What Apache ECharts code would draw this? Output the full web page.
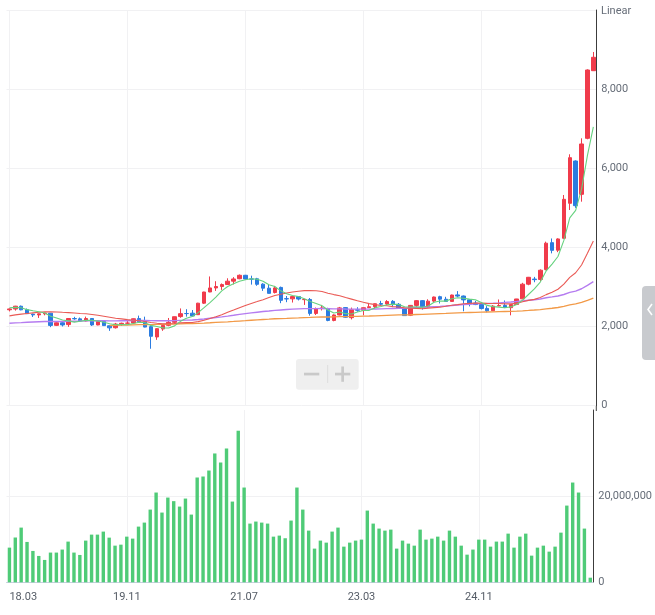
<!DOCTYPE html>
<html>
<head>
<meta charset="utf-8">
<title>KOSPI 월봉</title>
<script src="https://cdn.jsdelivr.net/npm/echarts@6/dist/echarts.min.js"></script>
<style>
  html, body { margin: 0; padding: 0; background: #fff; }
  #chart { width: 655px; height: 615px; }
</style>
</head>
<body>
<div id="chart"></div>
<script>
// ==================== 데이터 ====================
const categories = [
  '18.03','18.04','18.05','18.06','18.07','18.08','18.09','18.10','18.11','18.12',
  '19.01','19.02','19.03','19.04','19.05','19.06','19.07','19.08','19.09','19.10','19.11','19.12',
  '20.01','20.02','20.03','20.04','20.05','20.06','20.07','20.08','20.09','20.10','20.11','20.12',
  '21.01','21.02','21.03','21.04','21.05','21.06','21.07','21.08','21.09','21.10','21.11','21.12',
  '22.01','22.02','22.03','22.04','22.05','22.06','22.07','22.08','22.09','22.10','22.11','22.12',
  '23.01','23.02','23.03','23.04','23.05','23.06','23.07','23.08','23.09','23.10','23.11','23.12',
  '24.01','24.02','24.03','24.04','24.05','24.06','24.07','24.08','24.09','24.10','24.11','24.12',
  '25.01','25.02','25.03','25.04','25.05','25.06','25.07','25.08','25.09','25.10','25.11','25.12',
  '26.01','26.02','26.03','26.04','26.05','26.06'
];

// [시가, 종가, 저가, 고가]
const candles = [
  [2424,2445,2383,2460],[2443,2515,2403,2524],[2514,2423,2412,2531],[2427,2326,2322,2457],[2313,2295,2242,2325],
  [2294,2322,2218,2330],[2322,2343,2284,2345],[2338,2029,1985,2340],[2030,2096,2013,2112],[2096,2041,2002,2118],
  [2050,2204,1993,2206],[2203,2195,2172,2246],[2195,2140,2128,2228],[2141,2203,2130,2252],[2204,2041,2016,2214],
  [2041,2130,2032,2144],[2130,2024,2016,2136],[2020,1967,1891,2030],[1970,2063,1950,2092],[2063,2083,2020,2099],
  [2085,2087,2070,2167],[2091,2197,2060,2204],[2201,2119,2117,2277],[2123,1987,1980,2250],[1997,1754,1439,2061],
  [1737,1947,1664,1957],[1939,2029,1892,2062],[2031,2108,2009,2217],[2108,2249,2067,2252],[2252,2326,2222,2458],
  [2330,2327,2251,2439],[2338,2267,2253,2418],[2300,2591,2300,2600],[2591,2873,2570,2878],[2874,2976,2869,3266],
  [2976,3012,2901,3146],[3013,3061,2927,3089],[3062,3147,3062,3220],[3147,3203,3065,3249],[3209,3296,3196,3316],
  [3296,3202,3184,3305],[3202,3199,3060,3286],[3207,3068,3030,3231],[3072,2970,2901,3095],[2970,2839,2837,3062],
  [2860,2977,2837,3027],[2989,2663,2591,3010],[2705,2699,2616,2772],[2700,2757,2607,2770],[2757,2695,2660,2764],
  [2680,2685,2547,2701],[2685,2332,2276,2721],[2332,2451,2292,2481],[2454,2472,2407,2547],[2457,2155,2134,2474],
  [2155,2293,2133,2309],[2292,2472,2284,2496],[2479,2236,2218,2489],[2225,2425,2180,2480],[2425,2412,2374,2489],
  [2415,2476,2285,2480],[2478,2501,2475,2571],[2502,2577,2453,2582],[2582,2564,2541,2650],[2571,2632,2540,2668],
  [2637,2556,2491,2669],[2563,2465,2447,2594],[2459,2277,2277,2466],[2287,2535,2265,2543],[2535,2655,2497,2669],
  [2655,2497,2429,2669],[2498,2642,2478,2689],[2643,2747,2618,2757],[2755,2692,2584,2779],[2690,2636,2627,2752],
  [2635,2797,2631,2807],[2800,2770,2742,2896],[2772,2674,2386,2784],[2675,2593,2509,2689],[2594,2556,2542,2649],
  [2556,2455,2432,2603],[2459,2399,2360,2516],[2400,2517,2396,2543],[2520,2532,2516,2684],[2534,2481,2467,2660],
  [2478,2557,2284,2571],[2558,2697,2550,2700],[2700,3071,2700,3105],[3071,3245,3044,3254],[3200,3186,3120,3255],
  [3190,3424,3150,3445],[3440,4107,3420,4146],[4120,3926,3850,4226],[3930,4214,3880,4230],[4231,5216,4220,5325],
  [5115,6268,4946,6353],[6184,5055,5000,6200],[5342,6614,5156,6757],[6757,8484,6733,8500],[8466,8805,8466,8939]
];

// 이동평균선
const ma5 = [
  2476,2484,2475,2427,2401,2376,2342,2263,2217,2166,
  2143,2113,2135,2157,2157,2142,2108,2073,2045,2053,
  2045,2079,2110,2095,2029,2001,1967,1965,2017,2132,
  2208,2255,2352,2477,2607,2744,2903,3014,3080,3144,
  3182,3209,3194,3147,3056,3011,2903,2830,2787,2758,
  2700,2634,2584,2527,2419,2341,2369,2326,2316,2368,
  2404,2410,2478,2506,2550,2566,2559,2499,2493,2498,
  2486,2521,2615,2647,2643,2703,2728,2714,2694,2678,
  2610,2535,2504,2492,2477,2497,2557,2668,2810,2951,
  3125,3407,3578,3771,4177,4746,4936,5473,6327,7045
];
const ma20 = [
  2271,2295,2314,2330,2346,2360,2374,2371,2368,2360,
  2353,2343,2330,2322,2304,2284,2262,2237,2211,2194,
  2176,2160,2145,2128,2101,2083,2067,2071,2078,2093,
  2099,2102,2125,2158,2205,2249,2301,2360,2417,2478,
  2534,2584,2631,2680,2735,2786,2818,2847,2873,2891,
  2909,2912,2905,2885,2844,2808,2779,2733,2694,2650,
  2614,2579,2554,2534,2524,2503,2493,2472,2461,2459,
  2449,2465,2479,2490,2515,2540,2555,2577,2585,2592,
  2591,2586,2583,2581,2574,2574,2585,2625,2661,2687,
  2734,2807,2866,2942,3071,3244,3359,3556,3850,4163
];
const ma60 = [
  2084,2093,2100,2108,2115,2121,2127,2127,2128,2128,
  2133,2136,2139,2143,2144,2146,2145,2143,2144,2146,
  2148,2152,2155,2155,2150,2147,2146,2147,2150,2157,
  2163,2167,2177,2192,2210,2228,2246,2265,2285,2307,
  2327,2346,2363,2380,2394,2410,2420,2430,2440,2448,
  2453,2452,2453,2455,2451,2447,2447,2443,2441,2441,
  2441,2441,2444,2448,2453,2457,2459,2463,2471,2481,
  2486,2493,2503,2511,2521,2532,2545,2557,2565,2573,
  2579,2583,2589,2599,2611,2621,2632,2648,2665,2679,
  2697,2728,2750,2773,2810,2864,2897,2955,3043,3135
];
const ma120 = [
  '-','-','-','-','-','-','-','-','-','-',
  '-','-','-','-','-','-','-',2027,2030,2034,
  2039,2043,2047,2051,2051,2053,2056,2060,2064,2068,
  2072,2075,2081,2088,2096,2105,2113,2120,2129,2139,
  2148,2159,2170,2179,2187,2197,2203,2208,2214,2220,
  2227,2231,2236,2241,2242,2245,2250,2252,2256,2259,
  2263,2267,2272,2278,2284,2289,2293,2295,2299,2305,
  2309,2315,2321,2327,2332,2339,2345,2350,2355,2360,
  2364,2368,2372,2377,2381,2384,2389,2397,2407,2418,
  2430,2447,2463,2482,2510,2546,2571,2610,2664,2721
];

// 거래량
const volumes = [
  8050000,10400000,12700000,9370000,7280000,6120000,5190000,6900000,6900000,7600000,
  9450000,6900000,6350000,9680000,11070000,11070000,11770000,10370000,8510000,8740000,
  10600000,10140000,12930000,13860000,16880000,20840000,16190000,19670000,18840000,17580000,
  19440000,15720000,24330000,24560000,25950000,29910000,27810000,31070000,18740000,35190000,
  22000000,13630000,14100000,13860000,13630000,10600000,10840000,10230000,14330000,22000000,
  16880000,12000000,7820000,9680000,9210000,11770000,12700000,8280000,9210000,9680000,
  9910000,16650000,13630000,12470000,12000000,12230000,7820000,9680000,8980000,8510000,
  12230000,9910000,10140000,10600000,9680000,12000000,10600000,8510000,6420000,7600000,
  9910000,9910000,8280000,9450000,9450000,11300000,8050000,10600000,11300000,6190000,
  8050000,8510000,7120000,8280000,11530000,17810000,23160000,20840000,12470000,1070000
];

const priceTicks = { min: 0, max: 10000, step: 2000 };
const volumeTicks = { min: 0, max: 40000000, step: 20000000 };

// ==================== 스타일 ====================
const UP = '#f03b4b';
const DOWN = '#2b7ce0';
const LABEL_COLOR = '#666d78';
const GRID_LINE = '#f1f1f3';
const FONT = '"Liberation Sans Narrow", Roboto, sans-serif';

const chart = echarts.init(document.getElementById('chart'));

const fmt = v => v.toLocaleString('en-US');

function maLine(name, data, color, width) {
  return {
    name: name,
    type: 'line',
    xAxisIndex: 0,
    yAxisIndex: 0,
    data: data,
    showSymbol: false,
    symbol: 'none',
    silent: true,
    lineStyle: { color: color, width: width },
    z: 3
  };
}

chart.setOption({
  animation: false,
  backgroundColor: '#fff',
  grid: [
    { left: 6.5, right: 58.7, top: 10, height: 395.7 },
    { left: 6.5, right: 58.7, top: 410, height: 172.3 }
  ],
  xAxis: [
    {
      type: 'category',
      gridIndex: 0,
      data: categories,
      axisLine: { show: false },
      axisTick: { show: false },
      axisLabel: { show: false },
      splitLine: { show: true, interval: 19, alignWithLabel: true, lineStyle: { color: GRID_LINE } }
    },
    {
      type: 'category',
      gridIndex: 1,
      data: categories,
      axisLine: { lineStyle: { color: '#c8cfe0' } },
      axisTick: { interval: 19, alignWithLabel: true, length: 3, lineStyle: { color: '#c8cfe0' } },
      axisLabel: {
        interval: 19,
        color: '#555c66',
        fontSize: 11,
        fontFamily: FONT,
        margin: 9,
        alignMinLabel: 'left'
      },
      splitLine: { show: true, interval: 19, alignWithLabel: true, lineStyle: { color: GRID_LINE } }
    }
  ],
  yAxis: [
    {
      type: 'value',
      gridIndex: 0,
      position: 'right',
      min: priceTicks.min,
      max: priceTicks.max,
      interval: priceTicks.step,
      axisLine: { show: true, lineStyle: { color: '#3c3c3c' } },
      axisTick: { show: false },
      axisLabel: {
        showMaxLabel: false,
        margin: 5,
        padding: [4, 0, 0, 0],
        color: LABEL_COLOR,
        fontSize: 11,
        fontFamily: FONT,
        formatter: fmt
      },
      splitLine: { lineStyle: { color: GRID_LINE } }
    },
    {
      type: 'value',
      gridIndex: 1,
      position: 'right',
      min: volumeTicks.min,
      max: volumeTicks.max,
      interval: volumeTicks.step,
      axisLine: { show: true, lineStyle: { color: '#3c3c3c' } },
      axisTick: { show: false },
      axisLabel: {
        showMaxLabel: false,
        margin: 5,
        padding: [3, 0, 0, 0],
        color: LABEL_COLOR,
        fontSize: 11,
        fontFamily: FONT,
        formatter: fmt
      },
      splitLine: { showMaxLine: false, lineStyle: { color: GRID_LINE } }
    }
  ],
  series: [
    {
      name: 'KOSPI',
      type: 'candlestick',
      xAxisIndex: 0,
      yAxisIndex: 0,
      data: candles,
      barWidth: 4,
      itemStyle: {
        color: UP,
        color0: DOWN,
        borderColor: UP,
        borderColor0: DOWN,
        borderWidth: 1
      }
    },
    maLine('MA120', ma120, '#f29a48', 1.3),
    maLine('MA60', ma60, '#b57cf0', 1.4),
    maLine('MA20', ma20, '#ea5a55', 1.1),
    maLine('MA5', ma5, '#66d27f', 1.1),
    {
      name: '거래량',
      type: 'bar',
      xAxisIndex: 1,
      yAxisIndex: 1,
      data: volumes,
      barWidth: 3.4,
      itemStyle: { color: '#4fcb77' }
    }
  ],
  graphic: [
    // 오른쪽 축선 이음
    { type: 'line', silent: true, shape: { x1: 596.3, y1: 405, x2: 596.3, y2: 411 }, style: { stroke: '#3c3c3c', lineWidth: 1 } },
    // 스케일 표시
    { type: 'text', left: 601, top: 6, style: { text: 'Linear', fill: LABEL_COLOR, font: '11px ' + FONT } },
    // 확대/축소 버튼
    { type: 'rect', silent: true, shape: { x: 296, y: 359, width: 62.7, height: 30.7, r: 3 }, style: { fill: '#efefef' } },
    { type: 'rect', silent: true, shape: { x: 304, y: 372.7, width: 15.3, height: 2.7 }, style: { fill: '#c9c9c9' } },
    { type: 'line', silent: true, shape: { x1: 327.7, y1: 365, x2: 327.7, y2: 383 }, style: { stroke: '#dddddd', lineWidth: 1 } },
    { type: 'rect', silent: true, shape: { x: 335, y: 372.7, width: 15.3, height: 2.7 }, style: { fill: '#c9c9c9' } },
    { type: 'rect', silent: true, shape: { x: 341.3, y: 366.5, width: 2.7, height: 15.3 }, style: { fill: '#c9c9c9' } },
    // 오른쪽 패널 탭
    { type: 'rect', silent: true, shape: { x: 642, y: 286, width: 20, height: 74, r: [4, 0, 0, 4] }, style: { fill: '#c8cace' } },
    { type: 'polyline', silent: true, shape: { points: [[652, 304], [648, 309.5], [652, 315]] }, style: { stroke: '#ffffff', lineWidth: 1.6, fill: null } }
  ]
});
</script>
</body>
</html>
